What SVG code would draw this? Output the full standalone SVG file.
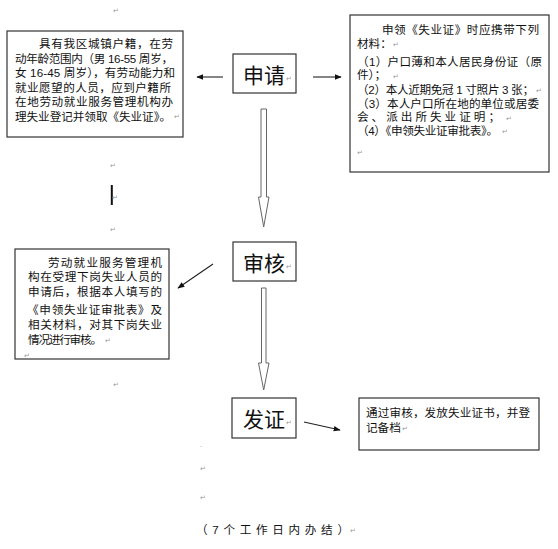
<svg xmlns="http://www.w3.org/2000/svg" width="558" height="549" viewBox="0 0 558 549">
<style>
.box{fill:#fff;stroke:#333;stroke-width:1.2}
.t{font-family:"Liberation Sans","Noto Sans CJK SC",sans-serif;font-size:11.6px;fill:#111}
.big{font-family:"Liberation Sans","Noto Sans CJK SC",sans-serif;font-size:21px;fill:#111}
.pm{font-family:"DejaVu Sans",sans-serif;font-size:7px;fill:#999}
.con{stroke:#222;stroke-width:1.1;fill:none;marker-end:url(#ah)}
.hollow{fill:#fff;stroke:#666;stroke-width:1}
</style>
<defs>
<marker id="ah" viewBox="0 0 10 10" refX="9" refY="5" markerWidth="7" markerHeight="7" markerUnits="userSpaceOnUse" orient="auto">
<path d="M0,1 L10,5 L0,9 z" fill="#111"/>
</marker>
</defs>
<rect width="558" height="549" fill="#fff"/>

<!-- stray paragraph marks -->
<text class="pm" x="113" y="13">↵</text>
<text class="pm" x="110" y="168">↵</text>
<rect x="110.8" y="185" width="2" height="20" fill="#111"/>
<text class="pm" x="112" y="200">↵</text>
<text class="pm" x="110" y="232">↵</text>
<text class="pm" x="113" y="387">↵</text>
<text class="pm" x="200" y="449">·</text>
<text class="pm" x="200" y="471">↵</text>
<text class="pm" x="200" y="500">↵</text>

<g id="connectors">
<line class="con" x1="223" y1="77" x2="197" y2="77"/>
<line class="con" x1="313" y1="77" x2="341" y2="77"/>
<line class="con" x1="213" y1="264" x2="178" y2="288"/>
<line class="con" x1="304" y1="422" x2="340" y2="430"/>
<path class="hollow" d="M261,109 H266.5 V197 H269 L263.7,227 L258.5,197 H261 Z"/>
<path class="hollow" d="M261.5,288 H266 V363 H269 L263.7,390 L258.5,363 H261.5 Z"/>
</g>

<g id="node-shenqing">
<rect class="box" x="233" y="54" width="63" height="39"/>
<text class="big" x="243" y="83">申请</text>
<text class="pm" x="286" y="81">↵</text>
</g>

<g id="node-shenhe">
<rect class="box" x="233" y="242" width="63" height="39"/>
<text class="big" x="243" y="271">审核</text>
<text class="pm" x="286" y="269">↵</text>
</g>

<g id="node-fazheng">
<rect class="box" x="232" y="398" width="64" height="40"/>
<text class="big" x="243" y="427">发证</text>
<text class="pm" x="286" y="425">↵</text>
</g>

<g id="node-condition">
<rect class="box" x="7" y="31" width="176" height="106"/>
<text class="t" x="39" y="48" textLength="134" lengthAdjust="spacing">具有我区城镇户籍，在劳</text>
<text class="t" x="15" y="62.5" textLength="158" lengthAdjust="spacing">动年龄范围内（男 16-55 周岁，</text>
<text class="t" x="15" y="77" textLength="160" lengthAdjust="spacing">女 16-45 周岁），有劳动能力和</text>
<text class="t" x="15" y="91.5" textLength="156" lengthAdjust="spacing">就业愿望的人员，应到户籍所</text>
<text class="t" x="15" y="106" textLength="158" lengthAdjust="spacing">在地劳动就业服务管理机构办</text>
<text class="t" x="15" y="120.5" textLength="156" lengthAdjust="spacing">理失业登记并领取《失业证》。</text>
<text class="pm" x="174" y="119">↵</text>
</g>

<g id="node-materials">
<rect class="box" x="350" y="15" width="199" height="157"/>
<text class="t" x="382" y="33.5" textLength="157" lengthAdjust="spacing">申领《失业证》时应携带下列</text>
<text class="t" x="357" y="47.5">材料：</text>
<text class="pm" x="393" y="47">↵</text>
<text class="t" x="357" y="65.5" textLength="185" lengthAdjust="spacing">（1）户口薄和本人居民身份证（原</text>
<text class="t" x="357" y="79">件）；</text>
<text class="pm" x="393" y="78.5">↵</text>
<text class="t" x="357" y="93.5" textLength="177" lengthAdjust="spacing">（2）本人近期免冠 1 寸照片 3 张；</text>
<text class="pm" x="536" y="93">↵</text>
<text class="t" x="357" y="107.5" textLength="182" lengthAdjust="spacing">（3）本人户口所在地的单位或居委</text>
<text class="t" x="357" y="121" textLength="143" lengthAdjust="spacing">会、派出所失业证明；</text>
<text class="pm" x="506" y="120.5">↵</text>
<text class="t" x="357" y="134.5" textLength="141" lengthAdjust="spacing">（4）《申领失业证审批表》。</text>
<text class="pm" x="502" y="134">↵</text>
<text class="pm" x="357" y="155">↵</text>
</g>

<g id="node-review">
<rect class="box" x="15" y="249" width="154" height="110"/>
<text class="t" x="48" y="267" textLength="114" lengthAdjust="spacing">劳动就业服务管理机</text>
<text class="t" x="28" y="281" textLength="134" lengthAdjust="spacing">构在受理下岗失业人员的</text>
<text class="t" x="28" y="296" textLength="134" lengthAdjust="spacing">申请后，根据本人填写的</text>
<text class="t" x="27" y="314" textLength="135" lengthAdjust="spacing">《申领失业证审批表》及</text>
<text class="t" x="28" y="329" textLength="134" lengthAdjust="spacing">相关材料，对其下岗失业</text>
<text class="t" x="28" y="344" textLength="74" lengthAdjust="spacing">情况进行审核。</text>
<text class="pm" x="105" y="343">↵</text>
<text class="pm" x="24" y="358">↵</text>
</g>

<g id="node-issue">
<rect class="box" x="359" y="398" width="180" height="52"/>
<text class="t" x="366" y="416.5" textLength="164" lengthAdjust="spacing">通过审核，发放失业证书，并登</text>
<text class="t" x="366" y="431.5">记备档</text>
<text class="pm" x="402" y="431">↵</text>
</g>

<g id="note">
<text class="t" x="196" y="534" textLength="153" lengthAdjust="spacing">（7个工作日内办结）</text>
<text class="pm" x="350" y="533">↵</text>
</g>
</svg>
